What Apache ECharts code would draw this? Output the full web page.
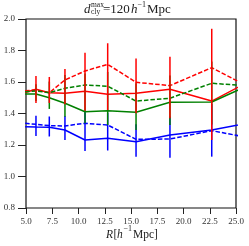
<!DOCTYPE html>
<html>
<head>
<meta charset="utf-8">
<script src="https://cdn.jsdelivr.net/npm/echarts@6/dist/echarts.min.js"></script>
<style>html,body{margin:0;padding:0;background:#fff}#c{width:249px;height:246px}</style>
</head>
<body>
<div id="c"></div>
<script>
// bin centres (h^-1 Mpc); first and last lie outside the plotted range and are clipped
const rBins = [4.92, 5.95, 7.22, 8.71, 10.62, 12.78, 15.48, 18.71, 22.69, 27.45];
const redSolid   = [1.533, 1.554, 1.532, 1.528, 1.541, 1.522, 1.528, 1.554, 1.479, 1.646];
const redDashed  = [1.545, 1.549, 1.532, 1.613, 1.670, 1.712, 1.598, 1.577, 1.691, 1.526];
const greenSolid = [1.524, 1.524, 1.500, 1.465, 1.411, 1.418, 1.408, 1.471, 1.473, 1.617];
const greenDashed= [1.538, 1.543, 1.532, 1.560, 1.581, 1.573, 1.479, 1.497, 1.592, 1.569];
const blueSolid  = [1.316, 1.314, 1.312, 1.295, 1.232, 1.243, 1.221, 1.263, 1.295, 1.357];
const blueDashed = [1.338, 1.331, 1.323, 1.321, 1.338, 1.327, 1.236, 1.238, 1.291, 1.231];
// error bars at interior bins
const errR = [5.95, 7.22, 8.71, 10.62, 12.78, 15.48, 18.71, 22.69];
const redLow   = [1.467, 1.467, 1.458, 1.418, 1.422, 1.401, 1.370, 1.232];
const redHigh  = [1.638, 1.632, 1.683, 1.786, 1.846, 1.750, 1.761, 1.938];
const greenLow = [1.480, 1.429, 1.380, 1.338, 1.327, 1.295, 1.327, 1.330];
const greenHigh= [1.586, 1.603, 1.645, 1.654, 1.664, 1.592, 1.641, 1.730];
const blueLow  = [1.257, 1.254, 1.232, 1.162, 1.165, 1.126, 1.119, 1.126];
const blueHigh = [1.385, 1.381, 1.384, 1.408, 1.405, 1.331, 1.381, 1.460];
const xTicks = [5.0, 7.5, 10.0, 12.5, 15.0, 17.5, 20.0, 22.5, 25.0];
const yTicks = [0.8, 1.0, 1.2, 1.4, 1.6, 1.8, 2.0];

const SERIF = '"Liberation Serif", "DejaVu Serif", serif';
const pairs = (ys) => rBins.map((x, i) => [x, ys[i]]);
function lineSeries(ys, color, dashed) {
  return {
    type: 'line', data: pairs(ys), showSymbol: false, clip: true, z: 2,
    lineStyle: { color: color, width: 1.5, type: dashed ? [4.5, 2] : 'solid' },
    emphasis: { disabled: true }, silent: true
  };
}
function errSeries(lo, hi, color, z) {
  return {
    type: 'custom', clip: true, z: z, silent: true,
    data: errR.map((x, i) => [x, lo[i], hi[i]]),
    renderItem: function (params, api) {
      const a = api.coord([api.value(0), api.value(1)]);
      const b = api.coord([api.value(0), api.value(2)]);
      return { type: 'line', shape: { x1: a[0], y1: a[1], x2: b[0], y2: b[1] },
               style: { stroke: color, lineWidth: 1.5 } };
    }
  };
}
const chart = echarts.init(document.getElementById('c'), null, { renderer: 'canvas' });
const txt = (s, x, y, size, italic, align) => ({
  type: 'text', x: x, y: y, silent: true,
  style: { text: s, fill: '#222', font: (italic ? 'italic ' : '') + size + 'px ' + SERIF,
           align: align || 'left', verticalAlign: 'middle' }
});
chart.setOption({
  animation: false,
  grid: { left: 26, right: 13, top: 19, bottom: 38, show: true, borderColor: '#111', borderWidth: 1.2, backgroundColor: 'transparent' },
  xAxis: {
    type: 'value', min: 5, max: 25, interval: 2.5,
    axisLine: { show: false }, splitLine: { show: false },
    axisTick: { show: true, length: 6, lineStyle: { color: '#222', width: 1 } },
    axisLabel: { color: '#333', fontFamily: SERIF, fontSize: 9, margin: 9,
      formatter: (v) => xTicks.includes(v) ? v.toFixed(1) : '' }
  },
  yAxis: {
    type: 'value', min: 0.8, max: 2.0, interval: 0.2,
    axisLine: { show: false }, splitLine: { show: false },
    axisTick: { show: true, length: 8, lineStyle: { color: '#222', width: 1 } },
    axisLabel: { color: '#333', fontFamily: SERIF, fontSize: 9, margin: 11,
      formatter: (v) => yTicks.some(t => Math.abs(t - v) < 1e-6) ? v.toFixed(1) : '' }
  },
  series: [
    lineSeries(redSolid, '#ff0000', false),
    lineSeries(redDashed, '#ff0000', true),
    lineSeries(greenSolid, '#008000', false),
    lineSeries(greenDashed, '#008000', true),
    lineSeries(blueSolid, '#0000ff', false),
    lineSeries(blueDashed, '#0000ff', true),
    errSeries(blueLow, blueHigh, '#0000ff', 3),
    errSeries(greenLow, greenHigh, '#008000', 4),
    errSeries(redLow, redHigh, '#ff0000', 5)
  ],
  graphic: [
    // title: d_cly^max = 120 h^-1 Mpc
    txt('d', 84, 9.3, 13, true),
    txt('max', 91, 4.8, 7.5, false),
    txt('cly', 91, 12.3, 7.5, false),
    txt('=120', 103, 9.3, 13, false),
    txt('h', 131, 9.3, 13, true),
    txt('\u22121', 137.5, 4.8, 8, false),
    txt('Mpc', 147, 9.3, 13, false),
    // x axis label: R[h^-1 Mpc]
    txt('R', 106, 234.8, 11.5, true),
    txt('[', 113.5, 234.8, 11.5, false),
    txt('h', 117, 234.8, 11.5, true),
    txt('\u22121', 123.5, 228.8, 8, false),
    txt('Mpc', 133, 234.8, 11.5, false),
    txt(']', 154, 234.8, 11.5, false)
  ]
});
</script>
</body>
</html>
